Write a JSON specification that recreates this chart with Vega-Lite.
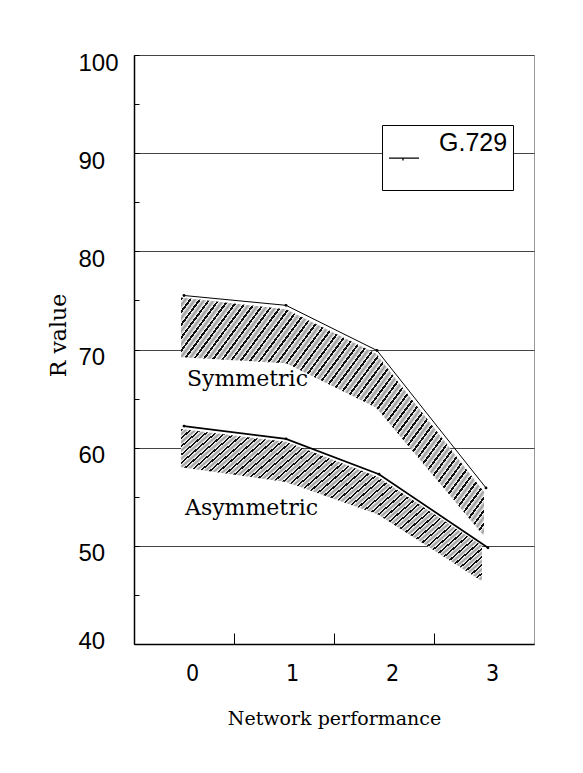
{
  "$schema": "https://vega.github.io/schema/vega-lite/v6.json",
  "width": 400,
  "height": 589,
  "autosize": {"type": "none"},
  "padding": {"left": 134, "top": 55, "right": 49, "bottom": 129},
  "background": "white",
  "config": {"view": {"stroke": "#999", "strokeWidth": 1}, "font": "Liberation Sans"},
  "datasets": {
    "bands": [
      {"series": "Symmetric", "x": -0.03, "y": 75.3, "y2": 69.2},
      {"series": "Symmetric", "x": 1.02, "y": 74.1, "y2": 68.6},
      {"series": "Symmetric", "x": 1.92, "y": 69.6, "y2": 64.1},
      {"series": "Symmetric", "x": 3.0, "y": 55.5, "y2": 51.0},
      {"series": "Asymmetric", "x": -0.03, "y": 61.9, "y2": 58.0},
      {"series": "Asymmetric", "x": 1.02, "y": 60.6, "y2": 56.5},
      {"series": "Asymmetric", "x": 1.94, "y": 57.0, "y2": 53.2},
      {"series": "Asymmetric", "x": 2.98, "y": 50.0, "y2": 46.4}
    ],
    "lines": [
      {"series": "Symmetric", "codec": "G.729", "x": 0, "y": 75.5},
      {"series": "Symmetric", "codec": "G.729", "x": 1.02, "y": 74.5},
      {"series": "Symmetric", "codec": "G.729", "x": 1.93, "y": 69.9},
      {"series": "Symmetric", "codec": "G.729", "x": 3.02, "y": 55.9},
      {"series": "Asymmetric", "codec": "G.729", "x": 0, "y": 62.2},
      {"series": "Asymmetric", "codec": "G.729", "x": 1.02, "y": 60.9},
      {"series": "Asymmetric", "codec": "G.729", "x": 1.95, "y": 57.3},
      {"series": "Asymmetric", "codec": "G.729", "x": 3.04, "y": 49.8}
    ],
    "labels": [
      {"label": "Symmetric", "x": 0.03, "y": 67.0},
      {"label": "Asymmetric", "x": 0.01, "y": 53.85}
    ]
  },
  "encoding": {
    "x": {
      "field": "x", "type": "quantitative",
      "scale": {"domain": [-0.5, 3.5], "nice": false, "zero": false},
      "axis": {
        "values": [0, 0.5, 1, 1.5, 2, 2.5, 3],
        "labelExpr": "datum.value % 1 === 0 ? format(datum.value, 'd') : ''",
        "tickSize": -11, "tickColor": "#000", "tickWidth": 1,
        "tickOpacity": {"condition": {"test": "datum.value % 1 === 0", "value": 0}, "value": 1},
        "domainColor": "#000", "domainWidth": 1.5,
        "labelFont": "Liberation Sans Narrow, DejaVu Sans Condensed, Liberation Sans", "labelFontSize": 23, "labelColor": "#000",
        "labelPadding": 29, "labelOffset": 8, "labelFlush": false, "labelOverlap": false,
        "grid": false,
        "title": "Network performance", "titleFont": "DejaVu Serif", "titleFontSize": 19,
        "titleFontWeight": "normal", "titleColor": "#000", "titleBaseline": "alphabetic",
        "titleY": 80, "titleX": 200, "titleAlign": "center"
      }
    },
    "y": {
      "field": "y", "type": "quantitative",
      "scale": {"domain": [40, 100], "nice": false, "zero": false},
      "axis": {
        "values": [40, 45, 50, 55, 60, 65, 70, 75, 80, 85, 90, 95, 100],
        "labelExpr": "datum.value % 10 === 0 ? datum.label : ''",
        "tickSize": -5, "tickColor": "#000", "tickWidth": 1,
        "domainColor": "#000", "domainWidth": 1.5,
        "labelAlign": "left", "labelBaseline": "middle", "labelPadding": 61,
        "labelOffset": {"condition": {"test": "datum.value === 40", "value": -3}, "value": 8},
        "labelFont": "Liberation Sans", "labelFontSize": 24, "labelColor": "#000",
        "labelFlush": false, "labelOverlap": false,
        "grid": true, "gridColor": "#444", "gridWidth": 1.2,
        "gridOpacity": {"condition": {"test": "datum.value % 10 === 0", "value": 1}, "value": 0},
        "title": "R value", "titleFont": "DejaVu Serif", "titleFontSize": 22,
        "titleFontWeight": "normal", "titleColor": "#000",
        "titleX": -69, "titleY": 280, "titleAngle": 270,
        "titleBaseline": "alphabetic", "titleAlign": "center"
      }
    }
  },
  "layer": [
    {
      "data": {"name": "bands"},
      "mark": {
        "type": "area", "opacity": 1,
        "fill": {
          "gradient": "linear", "x1": 0, "y1": 0, "x2": 1.18, "y2": 0.686,
          "stops": [
            {"offset": 0, "color": "#111"}, {"offset": 0.005, "color": "#111"}, {"offset": 0.005, "color": "#fff"}, {"offset": 0.0125, "color": "#999"}, {"offset": 0.02, "color": "#fff"},
            {"offset": 0.02, "color": "#111"}, {"offset": 0.025, "color": "#111"}, {"offset": 0.025, "color": "#fff"}, {"offset": 0.0325, "color": "#999"}, {"offset": 0.04, "color": "#fff"},
            {"offset": 0.04, "color": "#111"}, {"offset": 0.045, "color": "#111"}, {"offset": 0.045, "color": "#fff"}, {"offset": 0.0525, "color": "#999"}, {"offset": 0.06, "color": "#fff"},
            {"offset": 0.06, "color": "#111"}, {"offset": 0.065, "color": "#111"}, {"offset": 0.065, "color": "#fff"}, {"offset": 0.0725, "color": "#999"}, {"offset": 0.08, "color": "#fff"},
            {"offset": 0.08, "color": "#111"}, {"offset": 0.085, "color": "#111"}, {"offset": 0.085, "color": "#fff"}, {"offset": 0.0925, "color": "#999"}, {"offset": 0.1, "color": "#fff"},
            {"offset": 0.1, "color": "#111"}, {"offset": 0.105, "color": "#111"}, {"offset": 0.105, "color": "#fff"}, {"offset": 0.1125, "color": "#999"}, {"offset": 0.12, "color": "#fff"},
            {"offset": 0.12, "color": "#111"}, {"offset": 0.125, "color": "#111"}, {"offset": 0.125, "color": "#fff"}, {"offset": 0.1325, "color": "#999"}, {"offset": 0.14, "color": "#fff"},
            {"offset": 0.14, "color": "#111"}, {"offset": 0.145, "color": "#111"}, {"offset": 0.145, "color": "#fff"}, {"offset": 0.1525, "color": "#999"}, {"offset": 0.16, "color": "#fff"},
            {"offset": 0.16, "color": "#111"}, {"offset": 0.165, "color": "#111"}, {"offset": 0.165, "color": "#fff"}, {"offset": 0.1725, "color": "#999"}, {"offset": 0.18, "color": "#fff"},
            {"offset": 0.18, "color": "#111"}, {"offset": 0.185, "color": "#111"}, {"offset": 0.185, "color": "#fff"}, {"offset": 0.1925, "color": "#999"}, {"offset": 0.2, "color": "#fff"},
            {"offset": 0.2, "color": "#111"}, {"offset": 0.205, "color": "#111"}, {"offset": 0.205, "color": "#fff"}, {"offset": 0.2125, "color": "#999"}, {"offset": 0.22, "color": "#fff"},
            {"offset": 0.22, "color": "#111"}, {"offset": 0.225, "color": "#111"}, {"offset": 0.225, "color": "#fff"}, {"offset": 0.2325, "color": "#999"}, {"offset": 0.24, "color": "#fff"},
            {"offset": 0.24, "color": "#111"}, {"offset": 0.245, "color": "#111"}, {"offset": 0.245, "color": "#fff"}, {"offset": 0.2525, "color": "#999"}, {"offset": 0.26, "color": "#fff"},
            {"offset": 0.26, "color": "#111"}, {"offset": 0.265, "color": "#111"}, {"offset": 0.265, "color": "#fff"}, {"offset": 0.2725, "color": "#999"}, {"offset": 0.28, "color": "#fff"},
            {"offset": 0.28, "color": "#111"}, {"offset": 0.285, "color": "#111"}, {"offset": 0.285, "color": "#fff"}, {"offset": 0.2925, "color": "#999"}, {"offset": 0.3, "color": "#fff"},
            {"offset": 0.3, "color": "#111"}, {"offset": 0.305, "color": "#111"}, {"offset": 0.305, "color": "#fff"}, {"offset": 0.3125, "color": "#999"}, {"offset": 0.32, "color": "#fff"},
            {"offset": 0.32, "color": "#111"}, {"offset": 0.325, "color": "#111"}, {"offset": 0.325, "color": "#fff"}, {"offset": 0.3325, "color": "#999"}, {"offset": 0.34, "color": "#fff"},
            {"offset": 0.34, "color": "#111"}, {"offset": 0.345, "color": "#111"}, {"offset": 0.345, "color": "#fff"}, {"offset": 0.3525, "color": "#999"}, {"offset": 0.36, "color": "#fff"},
            {"offset": 0.36, "color": "#111"}, {"offset": 0.365, "color": "#111"}, {"offset": 0.365, "color": "#fff"}, {"offset": 0.3725, "color": "#999"}, {"offset": 0.38, "color": "#fff"},
            {"offset": 0.38, "color": "#111"}, {"offset": 0.385, "color": "#111"}, {"offset": 0.385, "color": "#fff"}, {"offset": 0.3925, "color": "#999"}, {"offset": 0.4, "color": "#fff"},
            {"offset": 0.4, "color": "#111"}, {"offset": 0.405, "color": "#111"}, {"offset": 0.405, "color": "#fff"}, {"offset": 0.4125, "color": "#999"}, {"offset": 0.42, "color": "#fff"},
            {"offset": 0.42, "color": "#111"}, {"offset": 0.425, "color": "#111"}, {"offset": 0.425, "color": "#fff"}, {"offset": 0.4325, "color": "#999"}, {"offset": 0.44, "color": "#fff"},
            {"offset": 0.44, "color": "#111"}, {"offset": 0.445, "color": "#111"}, {"offset": 0.445, "color": "#fff"}, {"offset": 0.4525, "color": "#999"}, {"offset": 0.46, "color": "#fff"},
            {"offset": 0.46, "color": "#111"}, {"offset": 0.465, "color": "#111"}, {"offset": 0.465, "color": "#fff"}, {"offset": 0.4725, "color": "#999"}, {"offset": 0.48, "color": "#fff"},
            {"offset": 0.48, "color": "#111"}, {"offset": 0.485, "color": "#111"}, {"offset": 0.485, "color": "#fff"}, {"offset": 0.4925, "color": "#999"}, {"offset": 0.5, "color": "#fff"},
            {"offset": 0.5, "color": "#111"}, {"offset": 0.505, "color": "#111"}, {"offset": 0.505, "color": "#fff"}, {"offset": 0.5125, "color": "#999"}, {"offset": 0.52, "color": "#fff"},
            {"offset": 0.52, "color": "#111"}, {"offset": 0.525, "color": "#111"}, {"offset": 0.525, "color": "#fff"}, {"offset": 0.5325, "color": "#999"}, {"offset": 0.54, "color": "#fff"},
            {"offset": 0.54, "color": "#111"}, {"offset": 0.545, "color": "#111"}, {"offset": 0.545, "color": "#fff"}, {"offset": 0.5525, "color": "#999"}, {"offset": 0.56, "color": "#fff"},
            {"offset": 0.56, "color": "#111"}, {"offset": 0.565, "color": "#111"}, {"offset": 0.565, "color": "#fff"}, {"offset": 0.5725, "color": "#999"}, {"offset": 0.58, "color": "#fff"},
            {"offset": 0.58, "color": "#111"}, {"offset": 0.585, "color": "#111"}, {"offset": 0.585, "color": "#fff"}, {"offset": 0.5925, "color": "#999"}, {"offset": 0.6, "color": "#fff"},
            {"offset": 0.6, "color": "#111"}, {"offset": 0.605, "color": "#111"}, {"offset": 0.605, "color": "#fff"}, {"offset": 0.6125, "color": "#999"}, {"offset": 0.62, "color": "#fff"},
            {"offset": 0.62, "color": "#111"}, {"offset": 0.625, "color": "#111"}, {"offset": 0.625, "color": "#fff"}, {"offset": 0.6325, "color": "#999"}, {"offset": 0.64, "color": "#fff"},
            {"offset": 0.64, "color": "#111"}, {"offset": 0.645, "color": "#111"}, {"offset": 0.645, "color": "#fff"}, {"offset": 0.6525, "color": "#999"}, {"offset": 0.66, "color": "#fff"},
            {"offset": 0.66, "color": "#111"}, {"offset": 0.665, "color": "#111"}, {"offset": 0.665, "color": "#fff"}, {"offset": 0.6725, "color": "#999"}, {"offset": 0.68, "color": "#fff"},
            {"offset": 0.68, "color": "#111"}, {"offset": 0.685, "color": "#111"}, {"offset": 0.685, "color": "#fff"}, {"offset": 0.6925, "color": "#999"}, {"offset": 0.7, "color": "#fff"},
            {"offset": 0.7, "color": "#111"}, {"offset": 0.705, "color": "#111"}, {"offset": 0.705, "color": "#fff"}, {"offset": 0.7125, "color": "#999"}, {"offset": 0.72, "color": "#fff"},
            {"offset": 0.72, "color": "#111"}, {"offset": 0.725, "color": "#111"}, {"offset": 0.725, "color": "#fff"}, {"offset": 0.7325, "color": "#999"}, {"offset": 0.74, "color": "#fff"},
            {"offset": 0.74, "color": "#111"}, {"offset": 0.745, "color": "#111"}, {"offset": 0.745, "color": "#fff"}, {"offset": 0.7525, "color": "#999"}, {"offset": 0.76, "color": "#fff"},
            {"offset": 0.76, "color": "#111"}, {"offset": 0.765, "color": "#111"}, {"offset": 0.765, "color": "#fff"}, {"offset": 0.7725, "color": "#999"}, {"offset": 0.78, "color": "#fff"},
            {"offset": 0.78, "color": "#111"}, {"offset": 0.785, "color": "#111"}, {"offset": 0.785, "color": "#fff"}, {"offset": 0.7925, "color": "#999"}, {"offset": 0.8, "color": "#fff"},
            {"offset": 0.8, "color": "#111"}, {"offset": 0.805, "color": "#111"}, {"offset": 0.805, "color": "#fff"}, {"offset": 0.8125, "color": "#999"}, {"offset": 0.82, "color": "#fff"},
            {"offset": 0.82, "color": "#111"}, {"offset": 0.825, "color": "#111"}, {"offset": 0.825, "color": "#fff"}, {"offset": 0.8325, "color": "#999"}, {"offset": 0.84, "color": "#fff"},
            {"offset": 0.84, "color": "#111"}, {"offset": 0.845, "color": "#111"}, {"offset": 0.845, "color": "#fff"}, {"offset": 0.8525, "color": "#999"}, {"offset": 0.86, "color": "#fff"},
            {"offset": 0.86, "color": "#111"}, {"offset": 0.865, "color": "#111"}, {"offset": 0.865, "color": "#fff"}, {"offset": 0.8725, "color": "#999"}, {"offset": 0.88, "color": "#fff"},
            {"offset": 0.88, "color": "#111"}, {"offset": 0.885, "color": "#111"}, {"offset": 0.885, "color": "#fff"}, {"offset": 0.8925, "color": "#999"}, {"offset": 0.9, "color": "#fff"},
            {"offset": 0.9, "color": "#111"}, {"offset": 0.905, "color": "#111"}, {"offset": 0.905, "color": "#fff"}, {"offset": 0.9125, "color": "#999"}, {"offset": 0.92, "color": "#fff"},
            {"offset": 0.92, "color": "#111"}, {"offset": 0.925, "color": "#111"}, {"offset": 0.925, "color": "#fff"}, {"offset": 0.9325, "color": "#999"}, {"offset": 0.94, "color": "#fff"},
            {"offset": 0.94, "color": "#111"}, {"offset": 0.945, "color": "#111"}, {"offset": 0.945, "color": "#fff"}, {"offset": 0.9525, "color": "#999"}, {"offset": 0.96, "color": "#fff"},
            {"offset": 0.96, "color": "#111"}, {"offset": 0.965, "color": "#111"}, {"offset": 0.965, "color": "#fff"}, {"offset": 0.9725, "color": "#999"}, {"offset": 0.98, "color": "#fff"},
            {"offset": 0.98, "color": "#111"}, {"offset": 0.985, "color": "#111"}, {"offset": 0.985, "color": "#fff"}, {"offset": 0.9925, "color": "#999"}, {"offset": 1, "color": "#fff"}
          ]
        }
      },
      "encoding": {
        "y2": {"field": "y2"},
        "detail": {"field": "series"}
      }
    },
    {
      "data": {"name": "lines"},
      "mark": {"type": "line"},
      "encoding": {
        "detail": {"field": "series"},
        "order": {"field": "x", "type": "quantitative"},
        "strokeWidth": {"condition": {"test": "datum.series === 'Asymmetric'", "value": 1.7}, "value": 1},
        "stroke": {
          "field": "codec", "type": "nominal",
          "scale": {"range": ["#000"]},
          "legend": {
            "orient": "none", "legendX": 248, "legendY": 70, "title": null,
            "symbolType": "M-1,1.48H1.86M0.33,1.48V1.72M0,3.76",
            "symbolSize": 441, "symbolStrokeWidth": 1.3,
            "symbolStrokeColor": "#000", "symbolFillColor": "#000",
            "labelFont": "Liberation Sans", "labelFontSize": 25, "labelColor": "#000",
            "labelBaseline": "middle", "labelOffset": 27, "labelLimit": 0,
            "padding": 5, "strokeColor": "#000", "fillColor": "#fff"
          }
        }
      }
    },
    {
      "data": {"name": "lines"},
      "mark": {"type": "point", "filled": true, "size": 8, "color": "#000", "opacity": 1},
      "encoding": {}
    },
    {
      "data": {"name": "labels"},
      "mark": {"type": "text", "align": "left", "baseline": "middle", "font": "DejaVu Serif", "fontSize": 22, "color": "#000"},
      "encoding": {"text": {"field": "label"}}
    }
  ]
}
